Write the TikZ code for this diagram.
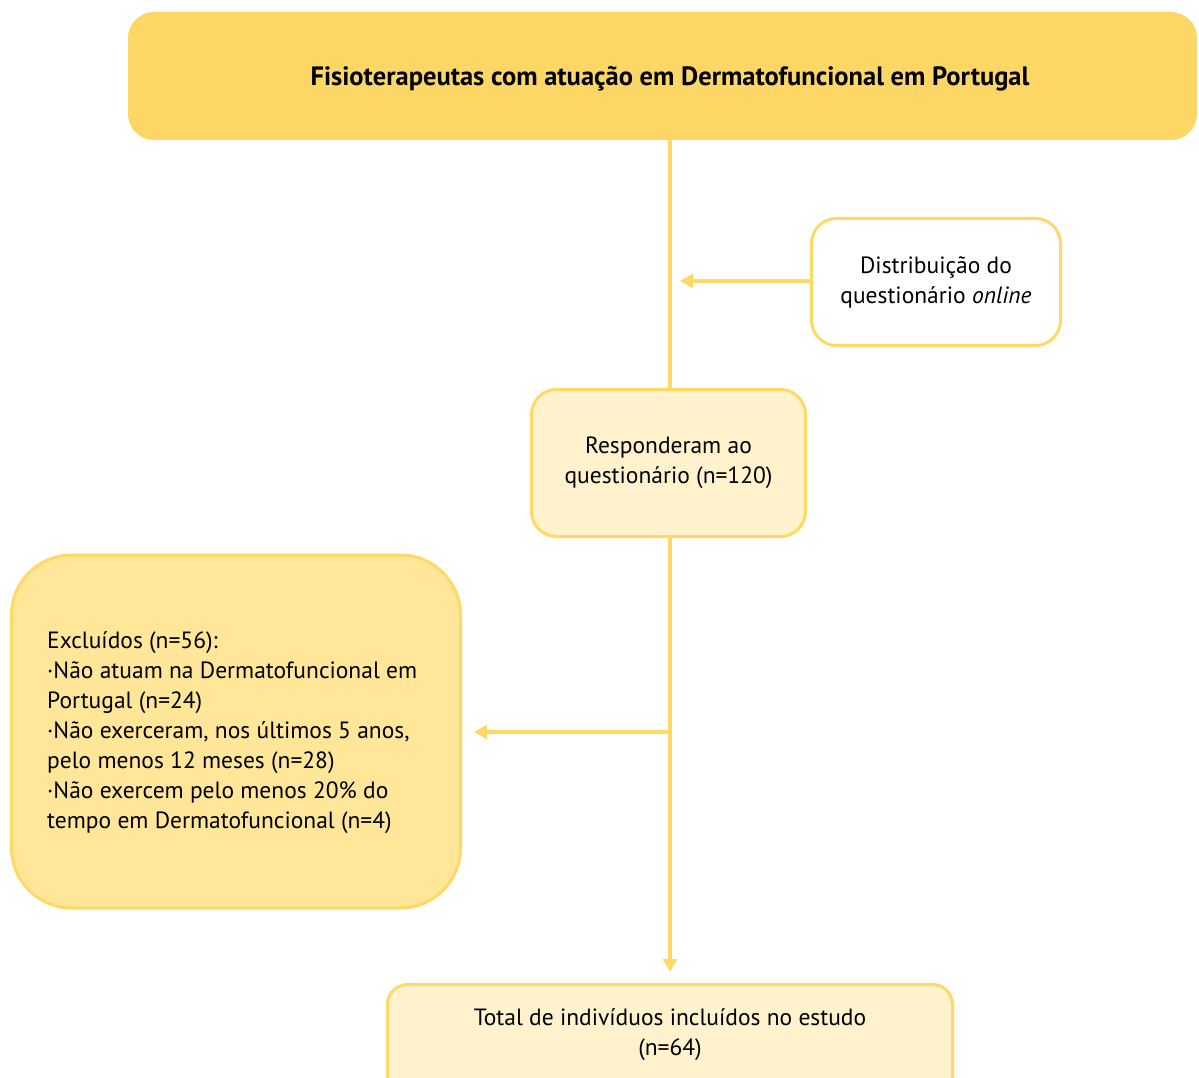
\documentclass[tikz,border=0pt]{standalone}
\usepackage{fontspec}
\setmainfont{PT Sans}
\usetikzlibrary{arrows.meta}
\definecolor{topfill}{HTML}{FDD766}
\definecolor{edge}{HTML}{FFD966}
\definecolor{light}{HTML}{FFF2CC}
\definecolor{mid}{HTML}{FFE699}
\tikzset{
  box/.style={draw=edge, line width=3pt, rounded corners=25pt, inner sep=0pt, align=center, font=\fontsize{23.5}{30}\selectfont},
  conn/.style={draw=edge, line width=3.2pt},
  arr/.style={conn, -{Triangle[length=13pt,width=14pt]}},
}
\begin{document}
\begin{tikzpicture}[x=1pt,y=-1pt]
\useasboundingbox (0,0) rectangle (1199,1078);
\clip (0,0) rectangle (1199,1078);
% top box
\node[fill=topfill, rounded corners=26pt, minimum width=1069pt, minimum height=128pt, inner sep=0pt] (top) at (662.5,76) {};
\node[font=\fontsize{26.5}{30}\selectfont\bfseries] (toptext) at (670,79) {Fisioterapeutas com atuação em Dermatofuncional em Portugal};
% distribution
\node[box, fill=white, minimum width=249pt, minimum height=127pt] (dist) at (936,282) {Distribuição do\\questionário \textit{online}};
% responded
\node[box, fill=light, minimum width=274pt, minimum height=147pt] (resp) at (668.5,463) {Responderam ao\\questionário (n=120)};
% excluded
\node[box, fill=mid, rounded corners=60pt, minimum width=449pt, minimum height=353pt] (excl) at (236,731.5) {};
\node[font=\fontsize{23.5}{30}\selectfont, align=left, anchor=north west, inner sep=0pt] (excltext) at (47,631) {Excluídos (n=56):\\
·Não atuam na Dermatofuncional em\\
Portugal (n=24)\\
·Não exerceram, nos últimos 5 anos,\\
pelo menos 12 meses (n=28)\\
·Não exercem pelo menos 20\% do\\
tempo em Dermatofuncional (n=4)};
% bottom
\node[box, fill=light, rounded corners=20pt, minimum width=565pt, minimum height=130pt, anchor=north] (total) at (670,983) {};
\node[font=\fontsize{23.5}{30}\selectfont, align=center] (totaltext) at (670,1035) {Total de indivíduos incluídos no estudo\\(n=64)};
% connectors
\coordinate (j1) at (670,281);
\coordinate (j2) at (670,732);
\coordinate (ah1) at (680,281);
\coordinate (ah2) at (474,732);
\coordinate (ah3) at (670,972);
\draw[conn] (top.south -| j1) -- (j1 |- resp.north);
\draw[arr] (dist.west |- j1) -- (ah1);
\draw[arr] (j1 |- resp.south) -- (ah3);
\draw[arr] (j2) -- (ah2);
\end{tikzpicture}
\end{document}
